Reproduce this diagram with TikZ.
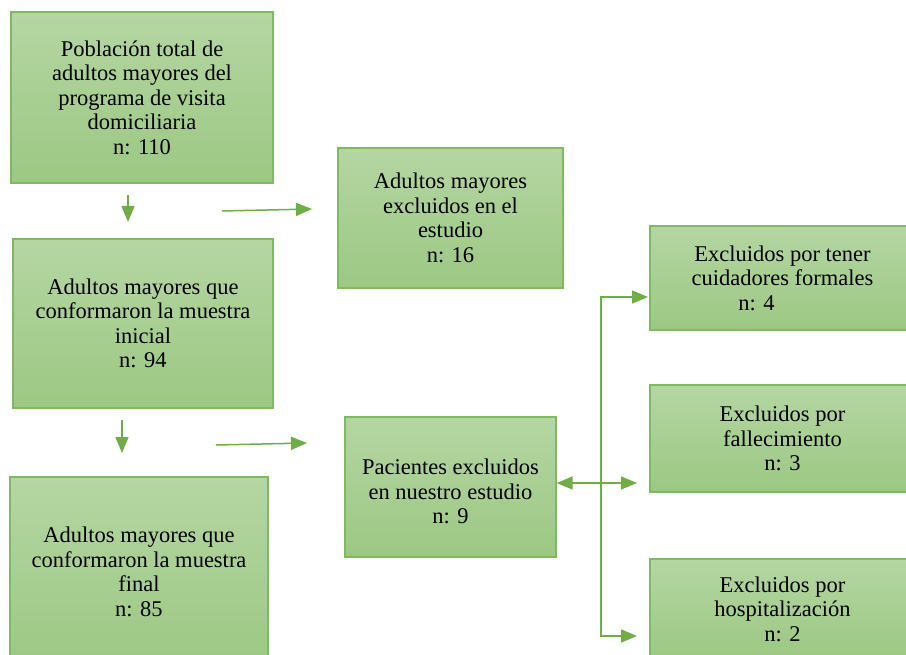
\documentclass[tikz,border=0pt]{standalone}
\usepackage{fontspec}
\setmainfont{Liberation Serif}
\usetikzlibrary{arrows.meta}
\definecolor{boxtop}{HTML}{B5D6A3}
\definecolor{boxbot}{HTML}{9CC883}
\definecolor{boxline}{HTML}{7FB960}
\definecolor{arrowgreen}{HTML}{70AD47}
\begin{document}
\begin{tikzpicture}[x=1pt,y=-1pt,
  greenbox/.style={draw=boxline,line width=1.3pt,top color=boxtop,bottom color=boxbot,
    align=center,text=black,inner sep=2pt,font=\fontsize{22.5}{24.5}\selectfont},
  linkarrow/.style={draw=arrowgreen,line width=1.5pt,-{Triangle[length=16pt,width=13pt]}}]
\useasboundingbox (0,0) rectangle (906,655);
% left column
\node[greenbox,minimum width=262,minimum height=171] (pob) at (142,97.5)
  {Población total de\\adultos mayores del\\programa de visita\\domiciliaria\\n: 110};
\node[greenbox,minimum width=260,minimum height=169] (ini) at (143,323.5)
  {Adultos mayores que\\conformaron la muestra\\inicial\\n: 94};
\node[greenbox,minimum width=258,minimum height=190] (fin) at (139,572)
  {Adultos mayores que\\conformaron la muestra\\final\\n: 85};
% middle column
\node[greenbox,minimum width=225,minimum height=140] (exc) at (450.5,218)
  {Adultos mayores\\excluidos en el\\estudio\\n: 16};
\node[greenbox,minimum width=211,minimum height=140] (pac) at (450.5,487)
  {\mbox{}\\Pacientes excluidos\\en nuestro estudio\\n: 9};
% right column
\node[greenbox,minimum width=265,minimum height=104] (cui) at (782.5,278)
  {Excluidos por tener\\cuidadores formales\\\hspace*{-52pt}n: 4};
\node[greenbox,minimum width=265,minimum height=107] (fal) at (782.5,438.5)
  {Excluidos por\\fallecimiento\\n: 3};
\node[greenbox,minimum width=265,minimum height=100] (hos) at (782.5,609)
  {Excluidos por\\hospitalización\\n: 2};
% arrows
\coordinate (d1) at (128,195);
\coordinate (d1e) at (128,222);
\coordinate (r1) at (222,211);
\coordinate (r1e) at (312,209);
\coordinate (d2) at (122,420);
\coordinate (d2e) at (122,453);
\coordinate (r2) at (216,445);
\coordinate (r2e) at (307,443);
\coordinate (jn) at (601,483);
\coordinate (up) at (648,297);
\coordinate (mid) at (637,483);
\coordinate (low) at (637,636);
\draw[linkarrow] (d1) -- (d1e);
\draw[linkarrow] (r1) -- (r1e);
\draw[linkarrow] (d2) -- (d2e);
\draw[linkarrow] (r2) -- (r2e);
\draw[linkarrow] (jn) -- (jn -| pac.east);
\draw[linkarrow] (jn) -- (mid);
\draw[linkarrow] (jn) |- (up);
\draw[linkarrow] (jn) |- (low);
\end{tikzpicture}
\end{document}
